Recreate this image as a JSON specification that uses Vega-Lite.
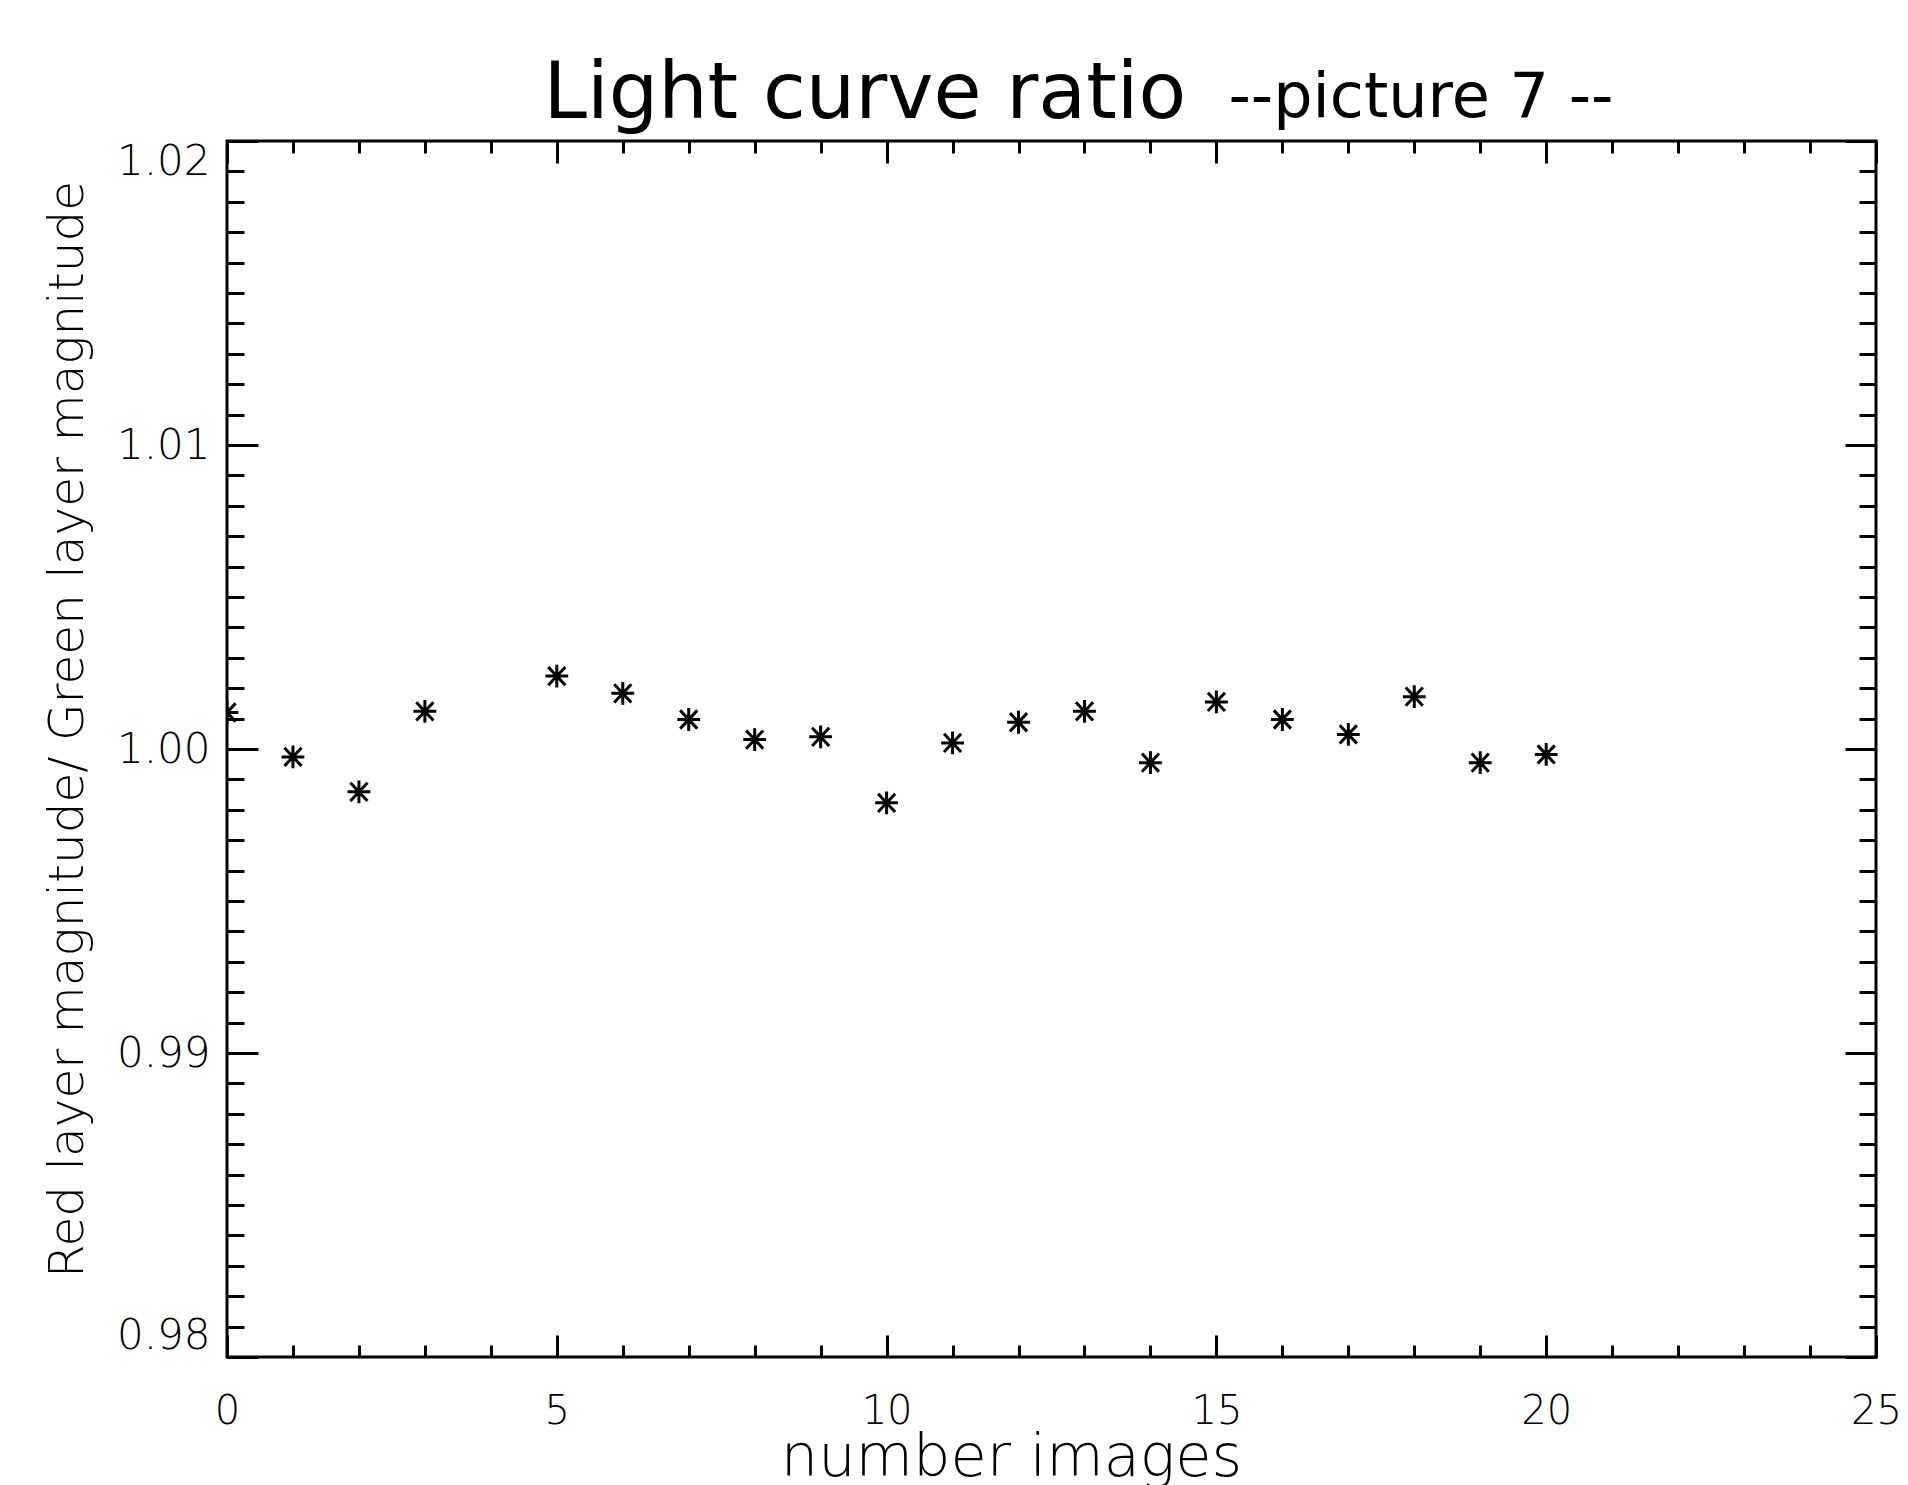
{
  "$schema": "https://vega.github.io/schema/vega-lite/v6.json",
  "width": 1649,
  "height": 1216,
  "autosize": "none",
  "padding": {"left": 227, "top": 141, "right": 32, "bottom": 128},
  "background": "white",
  "config": {
    "view": {"stroke": "black", "strokeWidth": 3},
    "axis": {
      "domain": false,
      "grid": false,
      "tickColor": "black",
      "tickWidth": 3,
      "labelColor": "black",
      "titleColor": "black",
      "labelFont": "DejaVu Sans",
      "titleFont": "DejaVu Sans",
      "labelFontWeight": 200,
      "titleFontWeight": 200
    }
  },
  "data": {
    "values": [
      {"image": 0, "ratio": 1.0012},
      {"image": 1, "ratio": 0.99974},
      {"image": 2, "ratio": 0.99859},
      {"image": 3, "ratio": 1.00124},
      {"image": 5, "ratio": 1.0024},
      {"image": 6, "ratio": 1.00183},
      {"image": 7, "ratio": 1.00097},
      {"image": 8, "ratio": 1.00031},
      {"image": 9, "ratio": 1.0004},
      {"image": 10, "ratio": 0.99823},
      {"image": 11, "ratio": 1.0002},
      {"image": 12, "ratio": 1.00088},
      {"image": 13, "ratio": 1.00124},
      {"image": 14, "ratio": 0.99955},
      {"image": 15, "ratio": 1.00155},
      {"image": 16, "ratio": 1.00097},
      {"image": 17, "ratio": 1.00048},
      {"image": 18, "ratio": 1.00172},
      {"image": 19, "ratio": 0.99955},
      {"image": 20, "ratio": 0.99982}
    ]
  },
  "resolve": {"axis": {"x": "independent", "y": "independent"}},
  "layer": [
    {
      "mark": {
        "type": "point",
        "shape": "M-1,0L1,0M0,-1L0,1M-0.75,-0.8L0.75,0.8M-0.75,0.8L0.75,-0.8",
        "size": 520,
        "filled": false,
        "stroke": "black",
        "strokeWidth": 3,
        "opacity": 1,
        "clip": true
      },
      "encoding": {
        "x": {
          "field": "image", "type": "quantitative",
          "scale": {"domain": [0, 25], "nice": false, "zero": false},
          "axis": {
            "orient": "bottom", "ticks": false,
            "values": [0, 5, 10, 15, 20, 25],
            "labelFontSize": 40, "labelPadding": 34, "labelFlush": false,
            "title": "number images", "titleFontSize": 59,
            "titleX": 784, "titleY": 118, "titleAlign": "center", "titleBaseline": "alphabetic"
          }
        },
        "y": {
          "field": "ratio", "type": "quantitative",
          "scale": {"domain": [0.98, 1.02], "nice": false, "zero": false},
          "axis": {
            "orient": "left", "ticks": false,
            "values": [0.98, 0.99, 1.0, 1.01, 1.02], "format": ".2f",
            "labelFontSize": 42, "labelPadding": 17, "labelFlush": true, "labelFlushOffset": 0,
            "title": "Red layer magnitude/ Green layer magnitude", "titleFontSize": 48.5,
            "titleAngle": 270, "titleX": -160, "titleY": 588, "titleAlign": "center", "titleBaseline": "middle"
          }
        }
      }
    },
    {
      "mark": {"type": "point", "opacity": 0},
      "encoding": {
        "x": {"field": "image", "type": "quantitative",
          "axis": {"orient": "bottom", "labels": false, "title": null, "values": [0, 5, 10, 15, 20, 25], "tickSize": -22}},
        "y": {"field": "ratio", "type": "quantitative",
          "axis": {"orient": "left", "labels": false, "title": null, "values": [0.98, 0.99, 1.0, 1.01, 1.02], "tickSize": -31}}
      }
    },
    {
      "mark": {"type": "point", "opacity": 0},
      "encoding": {
        "x": {"field": "image", "type": "quantitative",
          "axis": {"orient": "bottom", "labels": false, "title": null, "values": [0,1,2,3,4,5,6,7,8,9,10,11,12,13,14,15,16,17,18,19,20,21,22,23,24,25], "tickSize": -12}},
        "y": {"field": "ratio", "type": "quantitative",
          "axis": {"orient": "left", "labels": false, "title": null, "values": [0.98,0.981,0.982,0.983,0.984,0.985,0.986,0.987,0.988,0.989,0.99,0.991,0.992,0.993,0.994,0.995,0.996,0.997,0.998,0.999,1.0,1.001,1.002,1.003,1.004,1.005,1.006,1.007,1.008,1.009,1.01,1.011,1.012,1.013,1.014,1.015,1.016,1.017,1.018,1.019,1.02], "tickSize": -17}}
      }
    },
    {
      "mark": {"type": "point", "opacity": 0},
      "encoding": {
        "x": {"field": "image", "type": "quantitative",
          "axis": {"orient": "top", "labels": false, "values": [0, 5, 10, 15, 20, 25], "tickSize": -22,
            "title": "Light curve ratio", "titleFontSize": 78, "titleFontWeight": "normal",
            "titleX": 316, "titleY": -24, "titleAlign": "left", "titleBaseline": "alphabetic"}},
        "y": {"field": "ratio", "type": "quantitative",
          "axis": {"orient": "right", "labels": false, "title": null, "values": [0.98, 0.99, 1.0, 1.01, 1.02], "tickSize": -31}}
      }
    },
    {
      "mark": {"type": "point", "opacity": 0},
      "encoding": {
        "x": {"field": "image", "type": "quantitative",
          "axis": {"orient": "top", "labels": false, "values": [0,1,2,3,4,5,6,7,8,9,10,11,12,13,14,15,16,17,18,19,20,21,22,23,24,25], "tickSize": -12,
            "title": "--picture 7 --", "titleFontSize": 62, "titleFontWeight": "normal",
            "titleX": 1001, "titleY": -25, "titleAlign": "left", "titleBaseline": "alphabetic"}},
        "y": {"field": "ratio", "type": "quantitative",
          "axis": {"orient": "right", "labels": false, "title": null, "values": [0.98,0.981,0.982,0.983,0.984,0.985,0.986,0.987,0.988,0.989,0.99,0.991,0.992,0.993,0.994,0.995,0.996,0.997,0.998,0.999,1.0,1.001,1.002,1.003,1.004,1.005,1.006,1.007,1.008,1.009,1.01,1.011,1.012,1.013,1.014,1.015,1.016,1.017,1.018,1.019,1.02], "tickSize": -17}}
      }
    }
  ]
}
